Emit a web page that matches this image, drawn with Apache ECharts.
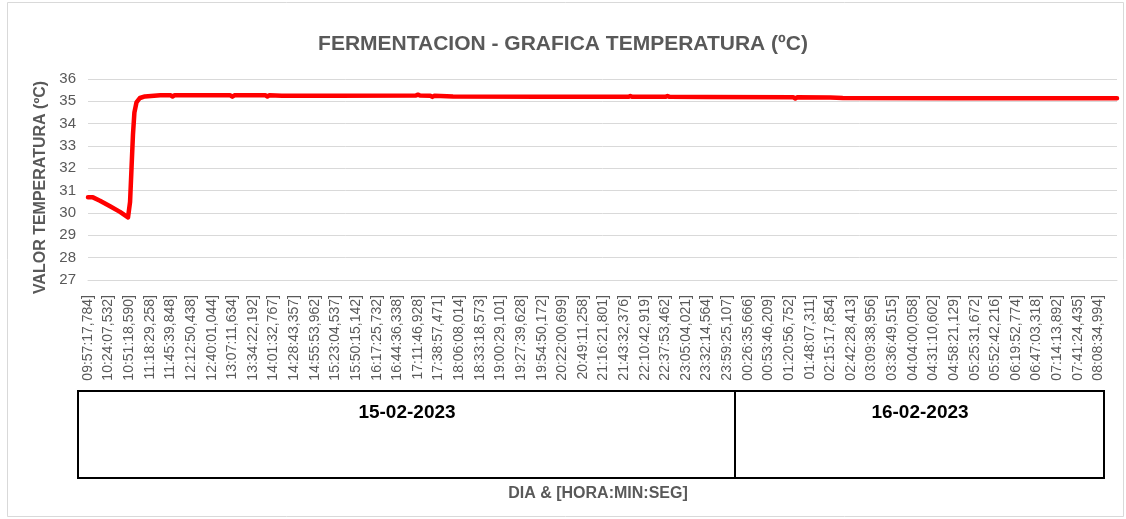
<!DOCTYPE html>
<html>
<head>
<meta charset="utf-8">
<script src="https://cdn.jsdelivr.net/npm/echarts@6/dist/echarts.min.js"></script>
<style>
  html, body { margin: 0; padding: 0; background: #ffffff; }
  #chart { width: 1126px; height: 519px; }
</style>
</head>
<body>
<div id="chart"></div>
<script>
// Time-of-day labels shown under the plot, one per label slot
const TICK_LABELS = [
  "09:57:17,784]", "10:24:07,532]", "10:51:18,590]", "11:18:29,258]", "11:45:39,848]",
  "12:12:50,438]", "12:40:01,044]", "13:07:11,634]", "13:34:22,192]", "14:01:32,767]",
  "14:28:43,357]", "14:55:53,962]", "15:23:04,537]", "15:50:15,142]", "16:17:25,732]",
  "16:44:36,338]", "17:11:46,928]", "17:38:57,471]", "18:06:08,014]", "18:33:18,573]",
  "19:00:29,101]", "19:27:39,628]", "19:54:50,172]", "20:22:00,699]", "20:49:11,258]",
  "21:16:21,801]", "21:43:32,376]", "22:10:42,919]", "22:37:53,462]", "23:05:04,021]",
  "23:32:14,564]", "23:59:25,107]", "00:26:35,666]", "00:53:46,209]", "01:20:56,752]",
  "01:48:07,311]", "02:15:17,854]", "02:42:28,413]", "03:09:38,956]", "03:36:49,515]",
  "04:04:00,058]", "04:31:10,602]", "04:58:21,129]", "05:25:31,672]", "05:52:42,216]",
  "06:19:52,774]", "06:47:03,318]", "07:14:13,892]", "07:41:24,435]", "08:08:34,994]"
];

// Day groups under the time labels
const DAYS = ["15-02-2023", "16-02-2023"];

// Reading positions, in label slots (0 = first label)
const POSITIONS = [
  0, 0.24, 0.58, 1.07, 1.55, 1.94, 2.04, 2.11, 2.18, 2.25, 2.35, 2.52, 2.76,
  3.5, 4.0, 4.1, 4.2, 6.9, 7.0, 7.1, 8.6, 8.7, 8.8, 9.4, 12.0, 15.9, 16.0,
  16.1, 16.6, 16.7, 16.8, 17.7, 22.0, 26.2, 26.3, 26.4, 27.0, 28.0, 28.1, 28.2,
  30.0, 34.2, 34.3, 34.4, 36.0, 36.6, 42.0, 49.9
];

// Temperature (ºC) at each reading position
const TEMPERATURES = [
  30.7, 30.7, 30.55, 30.3, 30.05, 29.8, 30.5, 32.0, 33.5, 34.5, 34.95, 35.15, 35.22,
  35.27, 35.27, 35.22, 35.27, 35.27, 35.21, 35.27, 35.27, 35.22, 35.27, 35.25, 35.25, 35.26, 35.3,
  35.26, 35.25, 35.2, 35.25, 35.22, 35.21, 35.2, 35.24, 35.2, 35.2, 35.2, 35.24, 35.2,
  35.19, 35.18, 35.13, 35.18, 35.17, 35.15, 35.14, 35.14
];

const GREY = '#595959';
const FONT = 'Liberation Sans';
const chart = echarts.init(document.getElementById('chart'), null, { renderer: 'canvas' });

const seriesData = POSITIONS.map((x, i) => [x, TEMPERATURES[i]]);

chart.setOption({
  animation: false,
  backgroundColor: '#ffffff',
  title: {
    text: 'FERMENTACION - GRAFICA TEMPERATURA (ºC)',
    left: 'center',
    top: 29,
    textStyle: { fontFamily: FONT, fontSize: 21, fontWeight: 'bold', color: GREY }
  },
  grid: { left: 88, right: 9, top: 79, bottom: 239, containLabel: false },
  xAxis: {
    type: 'value',
    min: 0,
    max: 49.9,
    interval: 1,
    splitLine: { show: false },
    axisTick: { show: false },
    axisLine: { show: true, lineStyle: { color: '#d9d9d9', width: 1 } },
    axisLabel: {
      rotate: 90,
      margin: 15,
      fontFamily: FONT,
      fontSize: 14,
      color: GREY,
      showMaxLabel: false,
      formatter: v => (Number.isInteger(v) && TICK_LABELS[v] !== undefined) ? TICK_LABELS[v] : ''
    }
  },
  yAxis: {
    type: 'value',
    min: 27,
    max: 36,
    interval: 1,
    name: 'VALOR TEMPERATURA (ºC)',
    nameLocation: 'middle',
    nameRotate: 90,
    nameGap: 37,
    nameTextStyle: { fontFamily: FONT, fontSize: 16, fontWeight: 'bold', color: GREY, padding: [0, 16, 0, 0] },
    axisLine: { show: false },
    axisTick: { show: false },
    axisLabel: { fontFamily: FONT, fontSize: 15, color: GREY, margin: 12 },
    splitLine: { lineStyle: { color: '#d9d9d9', width: 1 } }
  },
  series: [{
    type: 'line',
    data: seriesData,
    showSymbol: false,
    symbol: 'none',
    lineStyle: { color: '#ff0000', width: 4.5, join: 'round', cap: 'round' },
    itemStyle: { color: '#ff0000' }
  }],
  graphic: [
    // chart frame
    { type: 'rect', shape: { x: 7.5, y: 2.5, width: 1116, height: 514 },
      style: { fill: 'none', stroke: '#d9d9d9', lineWidth: 1 }, silent: true },
    // day group box
    { type: 'rect', shape: { x: 78, y: 391, width: 1026, height: 87 },
      style: { fill: 'none', stroke: '#000000', lineWidth: 2 }, silent: true },
    { type: 'line', shape: { x1: 735, y1: 391, x2: 735, y2: 478 },
      style: { stroke: '#000000', lineWidth: 2 }, silent: true },
    { type: 'text', x: 407, y: 413,
      style: { text: DAYS[0], fontFamily: FONT, fontSize: 19, fontWeight: 'bold',
               fill: '#000000', align: 'center', verticalAlign: 'middle' } },
    { type: 'text', x: 920, y: 413,
      style: { text: DAYS[1], fontFamily: FONT, fontSize: 19, fontWeight: 'bold',
               fill: '#000000', align: 'center', verticalAlign: 'middle' } },
    // x axis title
    { type: 'text', x: 598, y: 494,
      style: { text: 'DIA & [HORA:MIN:SEG]', fontFamily: FONT, fontSize: 16, fontWeight: 'bold',
               fill: GREY, align: 'center', verticalAlign: 'middle' } }
  ]
});
</script>
</body>
</html>
